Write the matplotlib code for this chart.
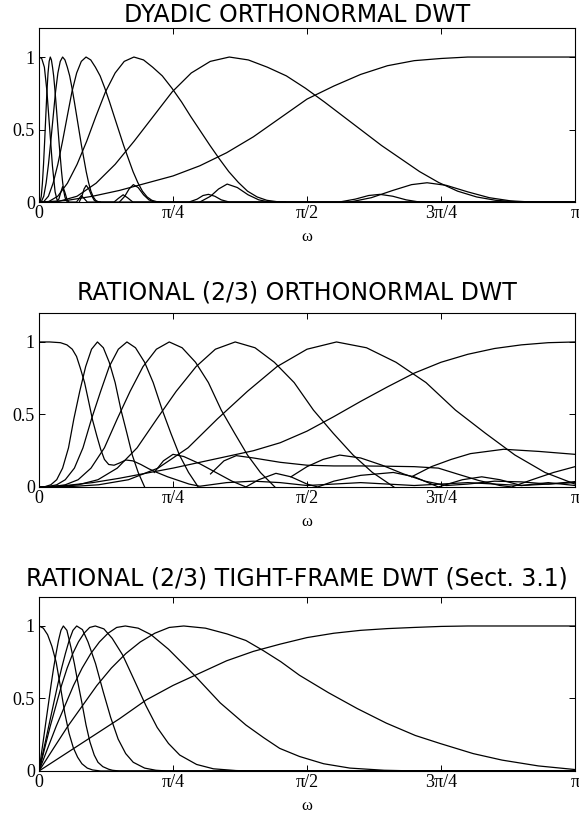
import matplotlib
matplotlib.use("Agg")
import matplotlib.pyplot as plt

# frequency axis in units of pi, magnitudes

# ---- dyadic orthonormal DWT ----
dy_shape = [0, .003, .04, .13, .26, .42, .59, .76, .89, .97, 1.0, .98, .93, .87, .785,
            .69, .59, .49, .39, .30, .21, .135, .075, .035, .012, .003, 0]
dy_b2_w = [0, .0355, .071, .1065, .142, .1775, .213, .2485, .284, .3195, .355, .3905, .426,
           .4615, .497, .5325, .568, .6035, .639, .6745, .71, .7455, .781, .8165, .852, .8875, .923]
dy_b3_w = [0, .018, .035, .053, .071, .089, .106, .124, .142, .159, .177, .195, .212, .230,
           .248, .266, .283, .301, .319, .336, .354, .372, .389, .407, .425, .443, .460]
dy_b4_w = [0, .0088, .0175, .0263, .0351, .0439, .0526, .0614, .0702, .0789, .0877, .0965, .1052,
           .114, .1228, .1316, .1403, .1491, .1579, .1666, .1754, .1842, .1929, .2017, .2105, .2193, .228]
dy_b5_w = [0, .0044, .0088, .0132, .0176, .022, .0264, .0308, .0352, .0396, .044, .0484, .0528,
           .0572, .0616, .066, .0704, .0748, .0792, .0836, .088, .0924, .0968, .1012, .1056, .11, .1144]
dy_b6_w = [0, .0021, .0042, .0063, .0084, .0105, .0126, .0147, .0168, .0189, .021, .0231, .0252,
           .0273, .0294, .0315, .0336, .0357, .0378, .0399, .042, .0441, .0462, .0483, .0504, .0525, .0546]

dy_lp_w = [0, .005, .01, .0146, .02, .025, .03, .034, .037, .04, .044, .048, .052, .056,
           .07, .075, .079, .084, .09, 1.0]
dy_lp_mag = [1, .99, .93, .77, .5, .25, .07, .01, .02, .06, .106, .07, .02, 0,
             0, .025, .045, .025, 0, 0]

dy_hp_w = [0, .05, .1, .15, .2, .25, .3, .35, .4, .45, .5, .55, .6, .65, .7, .75, .8, .85, .9, 1.0]
dy_hp_mag = [0, .01, .04, .08, .13, .18, .25, .34, .45, .58, .71, .80, .88, .94, .975, .99,
             1.0, 1.0, 1.0, 1.0]

# side lobes of the dyadic bands
dy_b3_lobe_w = [.58, .62, .66, .695, .724, .76, .8, .84, .88, .92, 1.0]
dy_b3_lobe_mag = [0, .03, .08, .12, .133, .115, .07, .03, .008, 0, 0]
dy_b4_lobe_w = [.30, .32, .335, .351, .37, .39, .41, .43, .56, .59, .615, .636, .66, .685, .71, 1.0]
dy_b4_lobe_mag = [0, .04, .09, .124, .10, .05, .015, 0, 0, .02, .045, .053, .04, .015, 0, 0]
dy_b5_lobe_w = [.15, .16, .168, .176, .185, .195, .205, .215, .28, .295, .306, .316, .328, .34, .355, 1.0]
dy_b5_lobe_mag = [0, .04, .09, .12, .10, .05, .015, 0, 0, .02, .045, .053, .04, .015, 0, 0]
dy_b6_lobe_w = [.075, .08, .084, .088, .093, .098, .103, .108, .14, .148, .157, .165, .175, 1.0]
dy_b6_lobe_mag = [0, .04, .09, .115, .09, .045, .012, 0, 0, .025, .05, .03, 0, 0]

# ---- rational (2/3) orthonormal DWT ----
ro_shape = [0, .002, .015, .05, .13, .27, .47, .66, .83, .95, 1.0, .96, .86, .72, .53, .37, .22, .10, 0]
ro_b1_w = [0, .011, .022, .033, .044, .055, .065, .076, .087, .098, .109, .12, .131, .142, .153,
           .164, .174, .185, .197]
ro_b2_w = [0, .016, .033, .049, .066, .082, .098, .115, .131, .148, .164, .18, .197, .213, .23,
           .246, .262, .279, .297]
ro_b3_w = [0, .024, .049, .073, .097, .122, .146, .17, .194, .219, .243, .267, .292, .316, .34,
           .365, .389, .413, .44]
ro_b4_w = [0, .037, .073, .11, .146, .183, .22, .256, .293, .329, .366, .403, .439, .476, .512,
           .549, .586, .622, .662]
ro_b5_w = [0, .056, .111, .167, .222, .278, .333, .389, .444, .5, .555, .611, .666, .722, .777,
           .833, .888, .944, 1.0]
ro_b5_mag = [0, .002, .015, .05, .13, .27, .47, .66, .83, .95, 1.0, .96, .86, .72, .53, .37, .22, .10, .02]

ro_b1_tail_w = [.215, .232, .25, .27, .3, .33, .36, .386, .41, .442, .47, .5, .52, .55, .6, .661,
                .7, .745, .79, .826, .86, .9, .95, 1.0]
ro_b1_tail_mag = [.1, .18, .225, .21, .16, .1, .04, 0, .05, .094, .07, .02, 0, .04, .08, .1,
                  .07, 0, .05, .07, .05, .01, .03, .01]
ro_b2_tail_w = [.32, .345, .368, .4, .45, .5, .55, .6, .65, .7, .745, .78, .82, .86, .882, .92, .96, 1.0]
ro_b2_tail_mag = [.09, .18, .216, .2, .17, .15, .145, .145, .143, .14, .13, .09, .045, .01, 0, .05, .1, .14]
ro_b3_tail_w = [.47, .5, .53, .561, .6, .64, .68, .72, .76, .8, .85, .9, .95, 1.0]
ro_b3_tail_mag = [.07, .14, .19, .22, .2, .15, .09, .04, .01, .02, .04, .035, .02, .037]
ro_b4_tail_w = [.695, .732, .769, .805, .867, .933, 1.0]
ro_b4_tail_mag = [.07, .14, .19, .23, .26, .245, .225]

ro_lp_w = [0, .02, .04, .052, .062, .07, .077, .085, .092, .1, .108, .115, .122, .13, .14, .15,
           .162, .175, .19, .205, .22, .24, .26, .28, .3, .35, .4, .45, .5, .55, .6, .65, .7, .75,
           .8, .85, .9, .95, 1.0]
ro_lp_mag = [1, 1, .995, .98, .95, .9, .82, .72, .6, .46, .35, .26, .19, .155, .15, .165,
             .186, .18, .155, .125, .1, .07, .045, .02, .005, .03, .04, .03, .01, .02, .03, .02, .01, .02,
             .03, .02, .01, .02, .03]
ro_hp_w = [0, .05, .1, .15, .2, .25, .3, .35, .4, .45, .5, .55, .6, .65, .7, .75, .8, .85, .9, .95, 1.0]
ro_hp_mag = [0, .01, .03, .06, .095, .13, .17, .21, .25, .305, .385, .485, .59, .69, .785, .86, .915,
             .955, .98, .995, 1.0]

# ---- rational (2/3) tight-frame DWT ----
tf_left_lin = [0, .12, .24, .36, .48, .6, .71, .81, .9, .97, 1.0]
tf_left_round = [0, .156, .31, .45, .59, .71, .81, .89, .95, .99, 1.0]
tf_p1_left_w = [0, .0045, .0091, .0136, .0182, .0227, .0272, .0318, .0363, .0409, .0454]
tf_p2_left_w = [0, .007, .0141, .0211, .0281, .0352, .0422, .0492, .0562, .0633, .0703]
tf_p3_left_w = [0, .0105, .021, .0315, .042, .0525, .063, .0735, .084, .0945, .105]
tf_p4_left_w = [0, .0161, .0322, .0483, .0644, .0805, .0966, .1127, .1288, .1449, .161]
tf_p5_left_w = [0, .027, .054, .081, .108, .135, .162, .189, .216, .243, .27]

tf_p1_right_w = [.052, .0597, .066, .072, .08, .0877, .095, .103, .11, .119, .13, .137, .15, 1.0]
tf_p1_right_mag = [.97, .85, .74, .62, .47, .317, .2, .11, .06, .03, .012, .005, 0, 0]
tf_p2_right_w = [.081, .0914, .1055, .1195, .1336, .1476, .1617, .1758, .197, .218, .239, 1.0]
tf_p2_right_mag = [.975, .89, .74, .55, .37, .22, .12, .06, .02, .005, 0, 0]
tf_p3_right_w = [.121, .1365, .156, .1785, .1995, .2205, .2415, .2625, .294, .3255, .3675, .399, 1.0]
tf_p3_right_mag = [.98, .915, .8, .62, .45, .3, .19, .11, .045, .015, .003, 0, 0]
tf_p4_right_w = [.185, .209, .2415, .29, .338, .386, .419, .449, .486, .531, .58, .644, .708, 1.0]
tf_p4_right_mag = [.985, .94, .84, .66, .47, .317, .23, .156, .1, .05, .02, .005, 0, 0]
tf_p5_right_w = [.3105, .351, .386, .4185, .451, .486, .54, .594, .648, .702, .748, .81, .864, .9315, 1.0]
tf_p5_right_mag = [.985, .945, .9, .83, .754, .66, .54, .43, .33, .245, .19, .12, .075, .035, .01]

tf_lp_w = [0, .008, .016, .024, .032, .04, .048, .056, .064, .072, .08, .09, .1, .115, 1.0]
tf_lp_mag = [1, .985, .94, .86, .75, .58, .4, .26, .16, .095, .05, .02, .007, 0, 0]
tf_hp_w = [0, .05, .1, .15, .2, .25, .3, .35, .4, .45, .5, .55, .6, .65, .7, .75, .8, .9, 1.0]
tf_hp_mag = [0, .12, .24, .36, .49, .59, .675, .76, .825, .875, .92, .95, .97, .982, .99, .997,
             1.0, 1.0, 1.0]

titles = ["DYADIC ORTHONORMAL DWT",
          "RATIONAL (2/3) ORTHONORMAL DWT",
          "RATIONAL (2/3) TIGHT-FRAME DWT (Sect. 3.1)"]
xtick_pos = [0, .25, .5, .75, 1]
xtick_labels = ["0", "\u03c0/4", "\u03c0/2", "3\u03c0/4", "\u03c0"]
ytick_pos = [0, .5, 1]
ytick_labels = ["0", "0.5", "1"]

serif = "Liberation Serif"
lw = 0.9

fig = plt.figure(figsize=(5.79, 8.15), dpi=100)
bottoms = [0.7521, 0.4025, 0.054]
title_y = [0.9734, 0.6331, 0.2822]
axes = []
for b in bottoms:
    axes.append(fig.add_axes([0.0674, b, 0.9257, 0.2135]))


def trace(ax, w, mag):
    ax.plot(w, mag, color="black", lw=lw, solid_joinstyle="round")


ax = axes[0]
trace(ax, dy_lp_w, dy_lp_mag)
trace(ax, dy_b6_w, dy_shape)
trace(ax, dy_b5_w, dy_shape)
trace(ax, dy_b4_w, dy_shape)
trace(ax, dy_b3_w, dy_shape)
trace(ax, dy_b2_w, dy_shape)
trace(ax, dy_hp_w, dy_hp_mag)
trace(ax, dy_b3_lobe_w, dy_b3_lobe_mag)
trace(ax, dy_b4_lobe_w, dy_b4_lobe_mag)
trace(ax, dy_b5_lobe_w, dy_b5_lobe_mag)
trace(ax, dy_b6_lobe_w, dy_b6_lobe_mag)

ax = axes[1]
trace(ax, ro_lp_w, ro_lp_mag)
trace(ax, ro_b1_w, ro_shape)
trace(ax, ro_b2_w, ro_shape)
trace(ax, ro_b3_w, ro_shape)
trace(ax, ro_b4_w, ro_shape)
trace(ax, ro_b5_w, ro_b5_mag)
trace(ax, ro_hp_w, ro_hp_mag)
trace(ax, ro_b1_tail_w, ro_b1_tail_mag)
trace(ax, ro_b2_tail_w, ro_b2_tail_mag)
trace(ax, ro_b3_tail_w, ro_b3_tail_mag)
trace(ax, ro_b4_tail_w, ro_b4_tail_mag)

ax = axes[2]
trace(ax, tf_lp_w, tf_lp_mag)
trace(ax, tf_p1_left_w + tf_p1_right_w, tf_left_lin + tf_p1_right_mag)
trace(ax, tf_p2_left_w + tf_p2_right_w, tf_left_lin + tf_p2_right_mag)
trace(ax, tf_p3_left_w + tf_p3_right_w, tf_left_round + tf_p3_right_mag)
trace(ax, tf_p4_left_w + tf_p4_right_w, tf_left_round + tf_p4_right_mag)
trace(ax, tf_p5_left_w + tf_p5_right_w, tf_left_round + tf_p5_right_mag)
trace(ax, tf_hp_w, tf_hp_mag)

for ax, title, ty in zip(axes, titles, title_y):
    ax.set_xlim(0, 1)
    ax.set_ylim(0, 1.2)
    ax.set_xticks(xtick_pos)
    ax.set_xticklabels(xtick_labels, fontfamily=serif, fontsize=13)
    ax.set_yticks(ytick_pos)
    ax.set_yticklabels(ytick_labels, fontfamily=serif, fontsize=13)
    ax.tick_params(direction="in", top=True, right=True, length=4, width=0.7)
    ax.tick_params(axis="x", pad=2)
    ax.tick_params(axis="y", pad=3)
    for sp in ax.spines.values():
        sp.set_linewidth(0.8)
    ax.annotate("\u03c9", xy=(0.5, 0), xycoords="axes fraction", xytext=(0, -28),
                textcoords="offset points", ha="center", va="baseline",
                fontfamily=serif, fontsize=12)
    fig.text(0.513, ty, title, ha="center", va="baseline", fontfamily="DejaVu Sans",
             fontsize=17)

fig.savefig("out.png", dpi=100)
